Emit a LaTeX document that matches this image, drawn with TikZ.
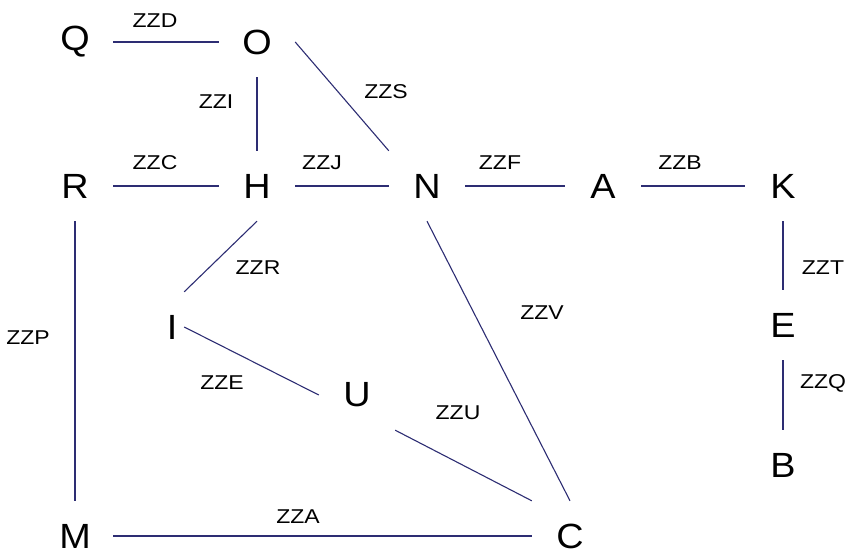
\documentclass[tikz,border=0pt]{standalone}
\usepackage{fontspec}
\setmainfont{Liberation Sans}
\newfontfamily\vertfont[FakeStretch=1.08]{Liberation Sans}
\newfontfamily\labfont[FakeStretch=1.15]{Liberation Sans}
\definecolor{edgecol}{RGB}{45,45,115}
\begin{document}
\begin{tikzpicture}[x=1pt,y=-1pt,
  vert/.style={rectangle,minimum width=76pt,minimum height=70pt,inner sep=0pt,font=\vertfont\fontsize{35}{35}\selectfont},
  narrow/.style={vert,minimum width=24pt},
  edge/.style={draw=edgecol,line width=1.1pt},
  lab/.style={font=\labfont\fontsize{20}{20}\selectfont,inner sep=0pt}]
\useasboundingbox (0,0) rectangle (850,554);
\node[vert] (Q) at (75,42) {Q};
\node[vert] (O) at (257,42) {O};
\node[vert] (R) at (75,186) {R};
\node[vert] (H) at (257,186) {H};
\node[vert] (N) at (427,186) {N};
\node[vert] (A) at (603,186) {A};
\node[vert] (K) at (783,186) {K};
\node[narrow] (I) at (172,327) {I};
\node[vert] (U) at (357,395) {U};
\node[vert] (E) at (783,325) {E};
\node[vert] (B) at (783,465) {B};
\node[vert] (M) at (75,536) {M};
\node[vert] (C) at (570,536) {C};

\draw[edge] (Q) -- (O);
\draw[edge] (O) -- (H);
\draw[edge] (O.east) -- (N.north west);
\draw[edge] (R) -- (H);
\draw[edge] (H) -- (N);
\draw[edge] (N) -- (A);
\draw[edge] (A) -- (K);
\draw[edge] (K) -- (E);
\draw[edge] (E) -- (B);
\draw[edge] (H.south) -- (I.north east);
\draw[edge] (I.east) -- (U.west);
\draw[edge] (U.south east) -- (C.north west);
\draw[edge] (N.south) -- (C.north);
\draw[edge] (R) -- (M);
\draw[edge] (M) -- (C);

\node[lab] (lD) at (155,21) {ZZD};
\node[lab] (lI) at (216,102) {ZZI};
\node[lab] (lS) at (386,92) {ZZS};
\node[lab] (lC) at (155,163) {ZZC};
\node[lab] (lJ) at (322,163) {ZZJ};
\node[lab] (lF) at (500,163) {ZZF};
\node[lab] (lB) at (680,163) {ZZB};
\node[lab] (lT) at (823,268) {ZZT};
\node[lab] (lQ) at (823,383) {ZZQ};
\node[lab] (lR) at (258,268) {ZZR};
\node[lab] (lV) at (542,313) {ZZV};
\node[lab] (lP) at (28,338) {ZZP};
\node[lab] (lE) at (222,383) {ZZE};
\node[lab] (lU) at (458,413) {ZZU};
\node[lab] (lA) at (298,517) {ZZA};
\end{tikzpicture}
\end{document}
